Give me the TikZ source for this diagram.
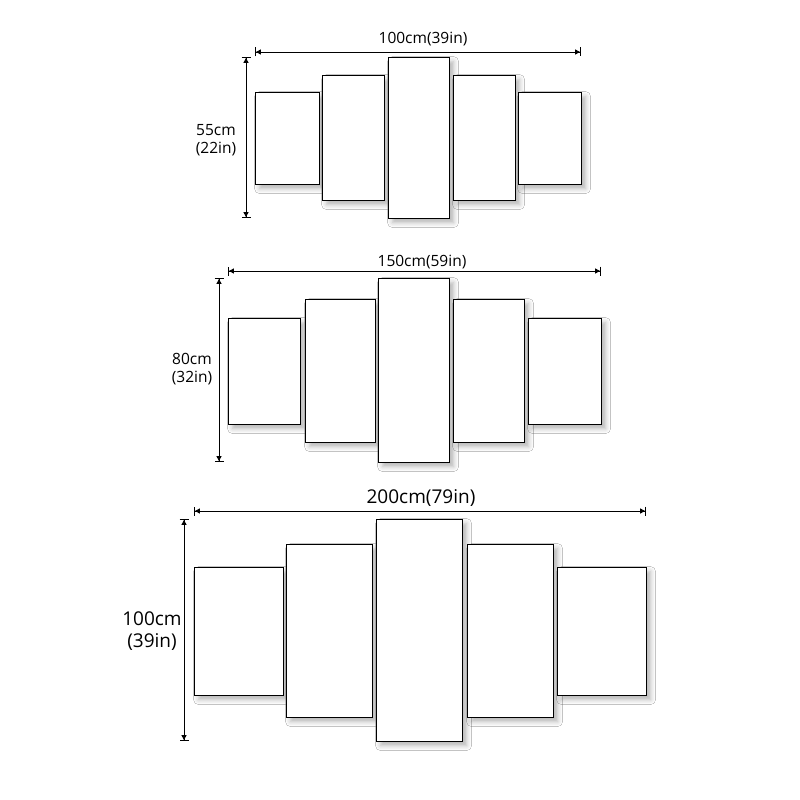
\documentclass[tikz,border=0pt]{standalone}
\usepackage{fontspec}
\setmainfont{Open Sans}
\usetikzlibrary{arrows.meta, positioning, shadows.blur}

\begin{document}
\begin{tikzpicture}[
    x=1pt, y=-1pt,
    panel/.style={draw, line width=1.1pt, fill=white, inner sep=0pt, anchor=north west,
      blur shadow={shadow xshift=4pt, shadow yshift=-4pt, shadow blur radius=5pt, shadow opacity=30}},
    dim/.style={{Bar[width=9pt]Triangle[width=5pt,length=5pt]}-{Triangle[width=5pt,length=5pt]Bar[width=9pt]}, line width=0.9pt},
    dimlabel/.style={font=\fontsize{15.5}{18.5}\selectfont, align=center, inner sep=0pt},
    biglabel/.style={font=\fontsize{19}{22}\selectfont, align=center, inner sep=0pt}
  ]
    \fill[white] (0,0) rectangle (800,800);
    \useasboundingbox (0,0) rectangle (800,800);

    % 100cm x 55cm
    \node[panel, minimum width=64pt, minimum height=92pt] (a1) at (255,92) {};
    \node[panel, minimum width=62pt, minimum height=125pt] (a2) at (322,75) {};
    \node[panel, minimum width=61pt, minimum height=161pt] (a3) at (388,57) {};
    \node[panel, minimum width=62pt, minimum height=125pt] (a4) at (453,75) {};
    \node[panel, minimum width=63pt, minimum height=92pt] (a5) at (518,92) {};
    \coordinate (aw) at (255,52);
    \coordinate (ae) at (581,52);
    \coordinate (an) at (246,57);
    \coordinate (as) at (246,218);
    \draw[dim] (aw) -- (ae);
    \draw[dim] (an) -- (as);
    \node[dimlabel] (awidth) at (423,39) {100cm(39in)};
    \node[dimlabel] (aheight) at (216,140) {55cm\\(22in)};

    % 150cm x 80cm
    \node[panel, minimum width=72pt, minimum height=106pt] (b1) at (228,318) {};
    \node[panel, minimum width=70pt, minimum height=143pt] (b2) at (305,299) {};
    \node[panel, minimum width=71pt, minimum height=184pt] (b3) at (378,278) {};
    \node[panel, minimum width=71pt, minimum height=143pt] (b4) at (453,299) {};
    \node[panel, minimum width=73pt, minimum height=106pt] (b5) at (528,318) {};
    \coordinate (bw) at (228,271);
    \coordinate (be) at (601,271);
    \coordinate (bn) at (219,278);
    \coordinate (bs) at (219,462);
    \draw[dim] (bw) -- (be);
    \draw[dim] (bn) -- (bs);
    \node[dimlabel] (bwidth) at (422,262) {150cm(59in)};
    \node[dimlabel] (bheight) at (192,369) {80cm\\(32in)};

    % 200cm x 100cm
    \node[panel, minimum width=89pt, minimum height=128pt] (c1) at (194,567) {};
    \node[panel, minimum width=86pt, minimum height=173pt] (c2) at (286,544) {};
    \node[panel, minimum width=86pt, minimum height=222pt] (c3) at (376,519) {};
    \node[panel, minimum width=86pt, minimum height=173pt] (c4) at (467,544) {};
    \node[panel, minimum width=89pt, minimum height=128pt] (c5) at (557,567) {};
    \coordinate (cw) at (194,511);
    \coordinate (ce) at (646,511);
    \coordinate (cn) at (184,519);
    \coordinate (cs) at (184,741);
    \draw[dim] (cw) -- (ce);
    \draw[dim] (cn) -- (cs);
    \node[biglabel] (cwidth) at (421,498) {200cm(79in)};
    \node[biglabel] (cheight) at (152,631) {100cm\\(39in)};
\end{tikzpicture}
\end{document}
